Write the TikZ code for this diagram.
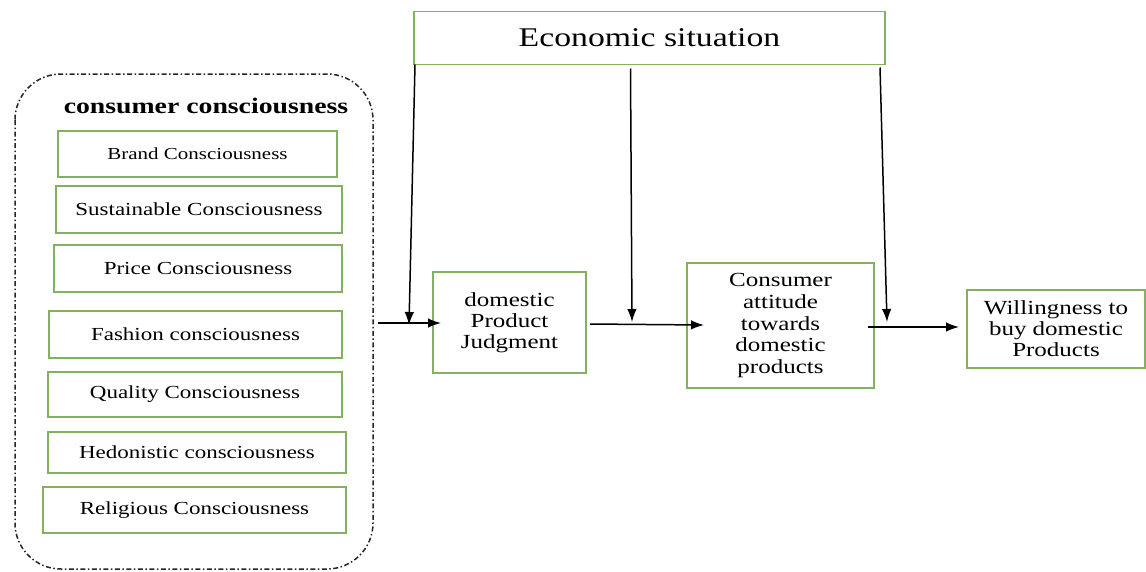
\documentclass[tikz,border=0pt]{standalone}
\usepackage{fontspec}
\setmainfont{Liberation Serif}[FakeStretch=1.25]
\usetikzlibrary{arrows.meta,calc}
\definecolor{boxgreen}{RGB}{130,178,95}
\tikzset{
  gbox/.style={draw=boxgreen, line width=1.7pt, inner sep=0pt, outer sep=0pt, align=center},
  lbox/.style={gbox, font=\fontsize{18.4}{21}\selectfont},
  rbox/.style={gbox, font=\fontsize{20}{21}\selectfont},
  arr/.style={line width=1.5pt, -{Latex[length=13pt,width=9.5pt]}},
}
\begin{document}
\begin{tikzpicture}[x=1pt,y=-1pt]
\useasboundingbox (0,0) rectangle (1146,571);
% container
\draw[line width=1.5pt, black!85, rounded corners=46pt, dash pattern=on 5pt off 2.5pt on 1.5pt off 2.5pt]
  (15,74) rectangle (373,569);
\node[font=\fontsize{22.2}{26}\selectfont\bfseries] (head) at (206,106) {consumer consciousness};
% left boxes
\node[gbox, font=\fontsize{16.8}{20}\selectfont, minimum width=279pt, minimum height=46pt] (brand) at (197.5,154) {Brand Consciousness};
\node[lbox, minimum width=286pt, minimum height=47pt] (sust) at (199,209.5) {Sustainable Consciousness};
\node[lbox, minimum width=288pt, minimum height=47pt] (price) at (198,268.5) {Price Consciousness};
\node[lbox, minimum width=293pt, minimum height=47pt] (fash) at (195.5,334.5) {Fashion consciousness};
\node[lbox, minimum width=294pt, minimum height=45pt] (qual) at (195,394.5) {Quality Consciousness};
\node[lbox, minimum width=298pt, minimum height=41pt] (hedo) at (197,452.5) {Hedonistic consciousness};
\node[lbox, minimum width=303pt, minimum height=46pt] (reli) at (194.5,510) {Religious Consciousness};
% top box
\node[gbox, font=\fontsize{27}{30}\selectfont, minimum width=471pt, minimum height=53pt] (econ) at (649.5,38) {Economic situation};
% right boxes
\node[rbox, minimum width=153pt, minimum height=101pt] (judg) at (509.5,322.5) {domestic\\Product\\Judgment};
\node[rbox, font=\fontsize{20}{22}\selectfont, minimum width=187pt, minimum height=125pt] (att) at (780.5,325.5) {Consumer\\attitude\\towards\\domestic\\products};
\node[rbox, minimum width=178pt, minimum height=78pt] (will) at (1056,329) {Willingness to\\buy domestic\\Products};
% connectors
\coordinate (cout) at (378,323);
\draw[arr] (cout) -- ($(judg.west)+(8,0.5)$);
\draw[arr] ($(econ.south west)+(1,0)$) -- (409,325);
\draw[arr] ($(econ.south)+(-19,4)$) -- (632,322);
\draw[arr] ($(econ.south east)+(-5,3)$) -- (887,322);
\draw[arr] ($(judg.east)+(4,1.5)$) -- ($(att.west)+(17,-0.5)$);
\draw[arr] ($(att.east)+(-6,1.5)$) -- ($(will.west)+(-8,-2)$);
\end{tikzpicture}
\end{document}
